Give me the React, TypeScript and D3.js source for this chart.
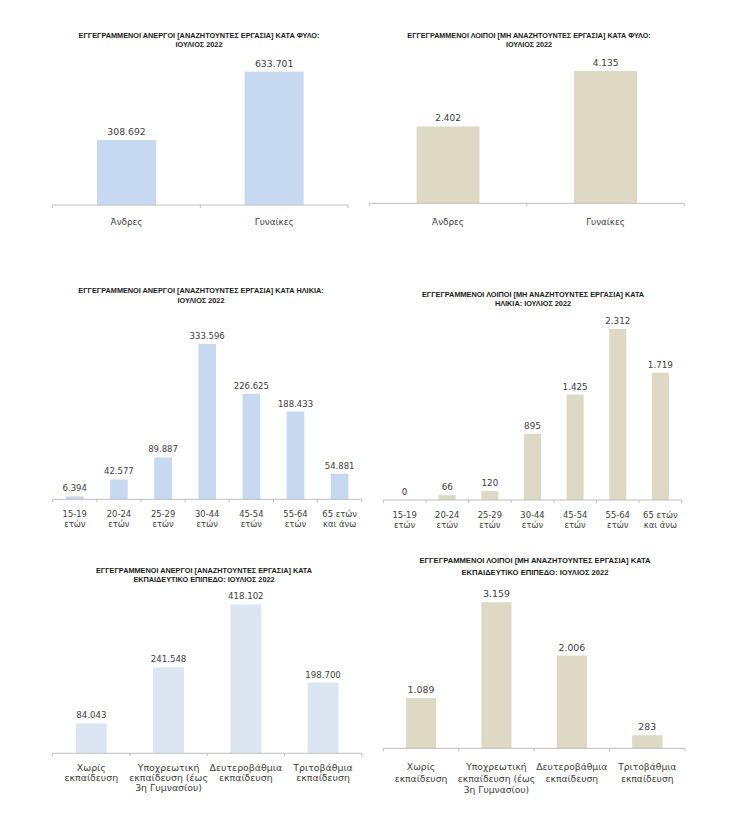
import React from "react";
import * as d3 from "d3";

// ---------- DATA ----------
const sexCategories = ["Άνδρες", "Γυναίκες"];
const unemployedBySex = [308692, 633701];
const othersBySex = [2402, 4135];

const ageCategories = [
  "15-19\nετών",
  "20-24\nετών",
  "25-29\nετών",
  "30-44\nετών",
  "45-54\nετών",
  "55-64\nετών",
  "65 ετών\nκαι άνω",
];
const unemployedByAge = [6394, 42577, 89887, 333596, 226625, 188433, 54881];
const othersByAge = [0, 66, 120, 895, 1425, 2312, 1719];

const eduCategories = [
  "Χωρίς\nεκπαίδευση",
  "Υποχρεωτική\nεκπαίδευση (έως\n3η Γυμνασίου)",
  "Δευτεροβάθμια\nεκπαίδευση",
  "Τριτοβάθμια\nεκπαίδευση",
];
const unemployedByEdu = [84043, 241548, 418102, 198700];
const othersByEdu = [1089, 3159, 2006, 283];

const titleSexUnemp = ["ΕΓΓΕΓΡΑΜΜΕΝΟΙ ΑΝΕΡΓΟΙ [ΑΝΑΖΗΤΟΥΝΤΕΣ ΕΡΓΑΣΙΑ]  ΚΑΤΑ ΦΥΛΟ:", "ΙΟΥΛΙΟΣ 2022"];
const titleSexOther = ["ΕΓΓΕΓΡΑΜΜΕΝΟΙ ΛΟΙΠΟΙ [ΜΗ ΑΝΑΖΗΤΟΥΝΤΕΣ ΕΡΓΑΣΙΑ] ΚΑΤΑ ΦΥΛΟ:", "ΙΟΥΛΙΟΣ 2022"];
const titleAgeUnemp = ["ΕΓΓΕΓΡΑΜΜΕΝΟΙ ΑΝΕΡΓΟΙ [ΑΝΑΖΗΤΟΥΝΤΕΣ ΕΡΓΑΣΙΑ] ΚΑΤΑ ΗΛΙΚΙΑ:", "ΙΟΥΛΙΟΣ 2022"];
const titleAgeOther = ["ΕΓΓΕΓΡΑΜΜΕΝΟΙ ΛΟΙΠΟΙ [ΜΗ ΑΝΑΖΗΤΟΥΝΤΕΣ ΕΡΓΑΣΙΑ] ΚΑΤΑ", "ΗΛΙΚΙΑ: ΙΟΥΛΙΟΣ 2022"];
const titleEduUnemp = ["ΕΓΓΕΓΡΑΜΜΕΝΟΙ ΑΝΕΡΓΟΙ [ΑΝΑΖΗΤΟΥΝΤΕΣ ΕΡΓΑΣΙΑ] ΚΑΤΑ", "ΕΚΠΑΙΔΕΥΤΙΚΟ ΕΠΙΠΕΔΟ: ΙΟΥΛΙΟΣ 2022"];
const titleEduOther = ["ΕΓΓΕΓΡΑΜΜΕΝΟΙ ΛΟΙΠΟΙ [ΜΗ ΑΝΑΖΗΤΟΥΝΤΕΣ ΕΡΓΑΣΙΑ] ΚΑΤΑ", "ΕΚΠΑΙΔΕΥΤΙΚΟ ΕΠΙΠΕΔΟ: ΙΟΥΛΙΟΣ 2022"];

// ---------- STYLE ----------
const BLUE = "#c6d9f1";
const LIGHT_BLUE = "#dce6f2";
const TAN = "#ddd9c4";

const grLocale = d3.formatLocale({ decimal: ",", thousands: ".", grouping: [3], currency: ["", "€"] });
const fmt = grLocale.format(",d");

type ChartProps = {
  categories: string[];
  values: number[];
  title: string[];
  color: string;
  x0: number;
  x1: number;
  axisY: number;
  yMax: number;
  topY: number;
  titleX: number;
  titleY: number[];
  titleSize: number;
  labelY: number;
  labelLH: number;
  labelSize: number;
  valueSize: number;
};

function BarChart(p: ChartProps) {
  const x = d3
    .scaleBand<string>()
    .domain(p.categories)
    .range([p.x0, p.x1])
    .paddingInner(0.6)
    .paddingOuter(0.3);
  const y = d3.scaleLinear().domain([0, p.yMax]).range([p.axisY, p.topY]);
  const step = x.step();
  const ticks = d3.range(p.categories.length + 1).map((i) => p.x0 + i * step);
  return (
    <g>
      {p.title.map((t, i) => (
        <text
          key={i}
          x={p.titleX}
          y={p.titleY[i]}
          textAnchor="middle"
          fontFamily="'Liberation Sans', Arial, sans-serif"
          fontWeight="bold"
          fontSize={p.titleSize}
          fill="#1a1a1a"
        >
          {t}
        </text>
      ))}
      {p.values.map((v, i) => {
        const c = p.categories[i];
        const bx = x(c) as number;
        return (
          <g key={c}>
            <rect x={bx} y={y(v)} width={x.bandwidth()} height={p.axisY - y(v)} fill={p.color} />
            <text
              x={bx + x.bandwidth() / 2}
              y={y(v) - 5}
              textAnchor="middle"
              fontFamily="'DejaVu Sans', sans-serif"
              fontSize={p.valueSize}
              fill="#404040"
            >
              {fmt(v)}
            </text>
            {c.split("\n").map((ln, j) => (
              <text
                key={j}
                x={bx + x.bandwidth() / 2}
                y={p.labelY + j * p.labelLH}
                textAnchor="middle"
                fontFamily="'DejaVu Sans', sans-serif"
                fontSize={p.labelSize}
                fill="#404040"
              >
                {ln}
              </text>
            ))}
          </g>
        );
      })}
      <line x1={p.x0} x2={p.x1} y1={p.axisY} y2={p.axisY} stroke="#bfbfbf" strokeWidth={1} />
      {ticks.map((tx, i) => (
        <line key={i} x1={tx} x2={tx} y1={p.axisY} y2={p.axisY + 3} stroke="#bfbfbf" strokeWidth={1} />
      ))}
    </g>
  );
}

export default function App() {
  return (
    <svg
      width={753}
      height={815}
      viewBox="0 0 753 815"
      style={{ position: "absolute", left: 0, top: 0, background: "#fff" }}
    >
      <rect x={0} y={0} width={753} height={815} fill="#fff" />
      <BarChart
        categories={sexCategories}
        values={unemployedBySex}
        title={titleSexUnemp}
        color={BLUE}
        x0={52.7}
        x1={348}
        axisY={205}
        yMax={700000}
        topY={57.7}
        titleX={199}
        titleY={[37.5, 46.5]}
        titleSize={7.3}
        labelY={225}
        labelLH={11}
        labelSize={8.8}
        valueSize={9.3}
      />
      <BarChart
        categories={sexCategories}
        values={othersBySex}
        title={titleSexOther}
        color={TAN}
        x0={369.3}
        x1={684.3}
        axisY={203.3}
        yMax={4500}
        topY={59.3}
        titleX={529}
        titleY={[37.5, 46.5]}
        titleSize={7.2}
        labelY={225}
        labelLH={11}
        labelSize={8.8}
        valueSize={9}
      />
      <BarChart
        categories={ageCategories}
        values={unemployedByAge}
        title={titleAgeUnemp}
        color={BLUE}
        x0={52.7}
        x1={361.7}
        axisY={499.3}
        yMax={400000}
        topY={313}
        titleX={201}
        titleY={[293, 302.5]}
        titleSize={7.3}
        labelY={516.5}
        labelLH={10}
        labelSize={8.4}
        valueSize={8.5}
      />
      <BarChart
        categories={ageCategories}
        values={othersByAge}
        title={titleAgeOther}
        color={TAN}
        x0={383.3}
        x1={681.7}
        axisY={500}
        yMax={2500}
        topY={315}
        titleX={533}
        titleY={[296.5, 306]}
        titleSize={7.3}
        labelY={517.5}
        labelLH={10}
        labelSize={8.4}
        valueSize={8.8}
      />
      <BarChart
        categories={eduCategories}
        values={unemployedByEdu}
        title={titleEduUnemp}
        color={LIGHT_BLUE}
        x0={52.7}
        x1={361.7}
        axisY={753.3}
        yMax={450000}
        topY={593}
        titleX={204}
        titleY={[572.5, 581.5]}
        titleSize={7.3}
        labelY={770.5}
        labelLH={10}
        labelSize={9.4}
        valueSize={8.6}
      />
      <BarChart
        categories={eduCategories}
        values={othersByEdu}
        title={titleEduOther}
        color={TAN}
        x0={383.3}
        x1={685}
        axisY={748.3}
        yMax={3500}
        topY={586.5}
        titleX={535}
        titleY={[563, 574.5]}
        titleSize={7.6}
        labelY={770}
        labelLH={11.5}
        labelSize={9.2}
        valueSize={9.4}
      />
    </svg>
  );
}
